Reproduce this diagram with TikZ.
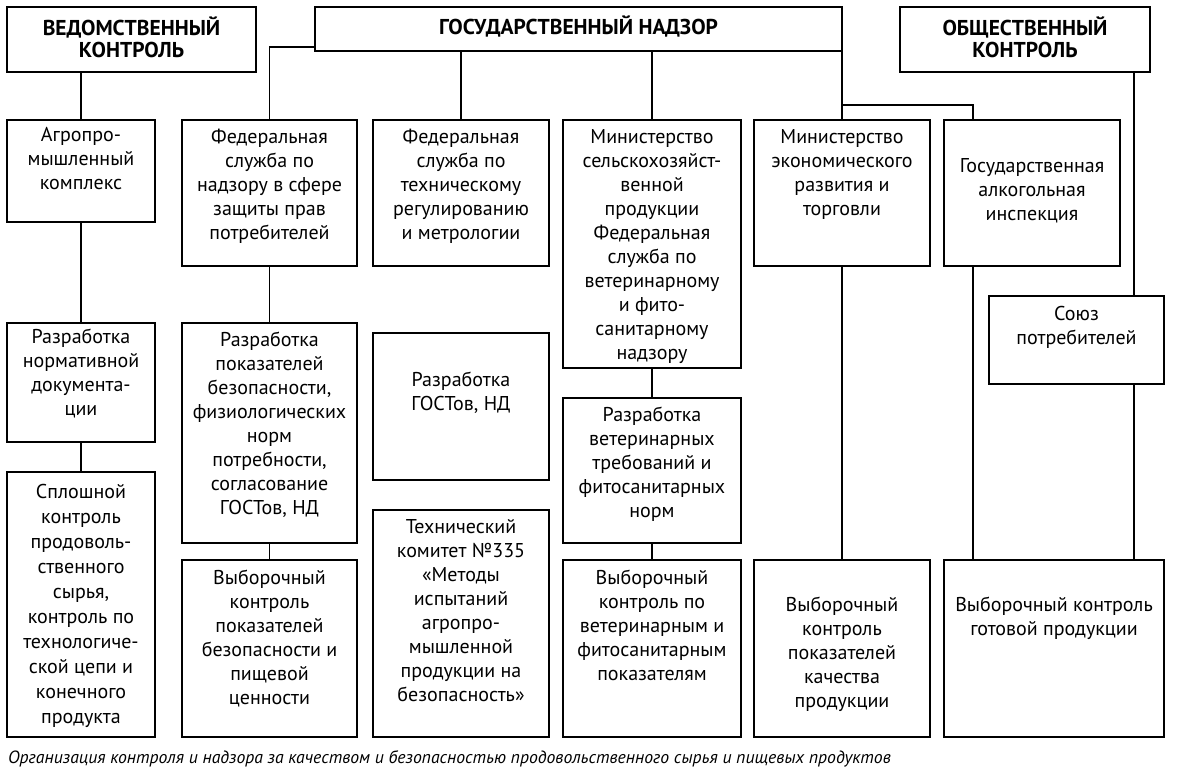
\documentclass[tikz,border=0pt]{standalone}
\usepackage{fontspec}
\setmainfont{PT Sans}
\usetikzlibrary{calc}
\tikzset{
  bx/.style={draw, line width=1.3pt, inner sep=0pt, outer sep=0pt, rectangle},
  txt/.style={font=\fontsize{20}{24}\selectfont, align=center, inner sep=0pt},
  hdr/.style={font=\fontsize{21.5}{22}\selectfont\bfseries, align=center, inner sep=0pt},
  wide/.style={font=\fontsize{20}{25}\selectfont, align=center, inner sep=0pt},
  con/.style={line width=1.3pt},
  captxt/.style={font=\fontsize{17.7}{20}\selectfont\itshape, inner sep=0pt, anchor=base west}
}
% style name x1 y1 x2 y2 pad text
\newcommand\mybox[8][txt]{%
  \node[bx, minimum width={(#5-#3)*1pt}, minimum height={(#6-#4)*1pt}] (#2) at ({(#3+#5)/2},{(#4+#6)/2}) {};
  \node[#1, anchor=north] (#2t) at ({(#3+#5)/2},{#4+#7}) {\strut #8};}
\begin{document}
\begin{tikzpicture}[x=1pt,y=-1pt]
\useasboundingbox (0,0) rectangle (1188,769);
% headers
\mybox[hdr]{ved}{7}{7}{256}{72}{10}{ВЕДОМСТВЕННЫЙ\\КОНТРОЛЬ}
\mybox[hdr]{gos}{315}{7}{842}{51}{9}{ГОСУДАРСТВЕННЫЙ НАДЗОР}
\mybox[hdr]{obsh}{900}{7}{1150}{72}{10}{ОБЩЕСТВЕННЫЙ\\КОНТРОЛЬ}
% column 1
\mybox{agro}{7}{120}{155}{222}{4}{Агропро-\\мышленный\\комплекс}
\mybox{norm}{7}{323}{155}{442}{3}{Разработка\\нормативной\\документа-\\ции}
\mybox[wide]{spl}{7}{472}{155}{737}{9}{Сплошной\\контроль\\продоволь-\\ственного\\сырья,\\контроль по\\технологиче-\\ской цепи и\\конечного\\продукта}
% column 2
\mybox{fn}{182}{120}{357}{266}{6}{Федеральная\\служба по\\надзору в сфере\\защиты прав\\потребителей}
\mybox{fp}{182}{323}{357}{543}{6}{Разработка\\показателей\\безопасности,\\физиологических\\норм\\потребности,\\согласование\\ГОСТов, НД}
\mybox{fv}{182}{560}{357}{737}{7}{Выборочный\\контроль\\показателей\\безопасности и\\пищевой\\ценности}
% column 3
\mybox{ft}{373}{120}{549}{266}{6}{Федеральная\\служба по\\техническому\\регулированию\\и метрологии}
\mybox{fg}{373}{333}{549}{480}{36}{Разработка\\ГОСТов, НД}
\mybox{tk}{373}{510}{549}{737}{6}{Технический\\комитет №335\\«Методы\\испытаний\\агропро-\\мышленной\\продукции на\\безопасность»}
% column 4
\mybox{ms}{563}{120}{741}{368}{6}{Министерство\\сельскохозяйст-\\венной\\продукции\\Федеральная\\служба по\\ветеринарному\\и фито-\\санитарному\\надзору}
\mybox{mv}{563}{398}{741}{543}{6}{Разработка\\ветеринарных\\требований и\\фитосанитарных\\норм}
\mybox{mvv}{563}{560}{741}{737}{7}{Выборочный\\контроль по\\ветеринарным и\\фитосанитарным\\показателям}
% column 5
\mybox{me}{754}{120}{930}{266}{6}{Министерство\\экономического\\развития и\\торговли}
\mybox{mq}{754}{560}{930}{737}{34}{Выборочный\\контроль\\показателей\\качества\\продукции}
% column 6
\mybox{alk}{944}{120}{1120}{266}{35}{Государственная\\алкогольная\\инспекция}
\mybox{soy}{989}{296}{1164}{384}{7}{Союз\\потребителей}
\mybox{vg}{944}{560}{1164}{737}{34}{Выборочный контроль\\готовой продукции}
% junction coordinates
\coordinate (gl) at ($(gos.south west)+(0,-4)$);
\coordinate (j1) at ($(gos.south east)+(0,54)$);
\coordinate (alkin) at ($(alk.north west)+(29,0)$);
\coordinate (obx) at ($(obsh.south east)+(-16,0)$);
% connectors
\draw[con] (agro.north) -- (agro.north |- ved.south);
\draw[con] (agro.south) -- (norm.north);
\draw[con] (norm.south) -- (spl.north);
\draw[con] (fn.north) |- (gl);
\draw[con] (fn.south) -- (fp.north);
\draw[con] (fp.south) -- (fv.north);
\draw[con] (ft.north) -- (ft.north |- gos.south);
\draw[con] (ms.north) -- (ms.north |- gos.south);
\draw[con] (ms.south) -- (mv.north);
\draw[con] (mv.south) -- (mvv.north);
\draw[con] (gos.south east) -- (me.north);
\draw[con] (j1) -| (alkin);
\draw[con] (me.south) -- (mq.north);
\draw[con] (alkin |- alk.south) -- (alkin |- vg.north);
\draw[con] (obx) -- (obx |- soy.north);
\draw[con] (obx |- soy.south) -- (obx |- vg.north);
% caption
\node[captxt] (caption) at (8,763) {Организация контроля и надзора за качеством и безопасностью продовольственного сырья и пищевых продуктов};
\end{tikzpicture}
\end{document}
